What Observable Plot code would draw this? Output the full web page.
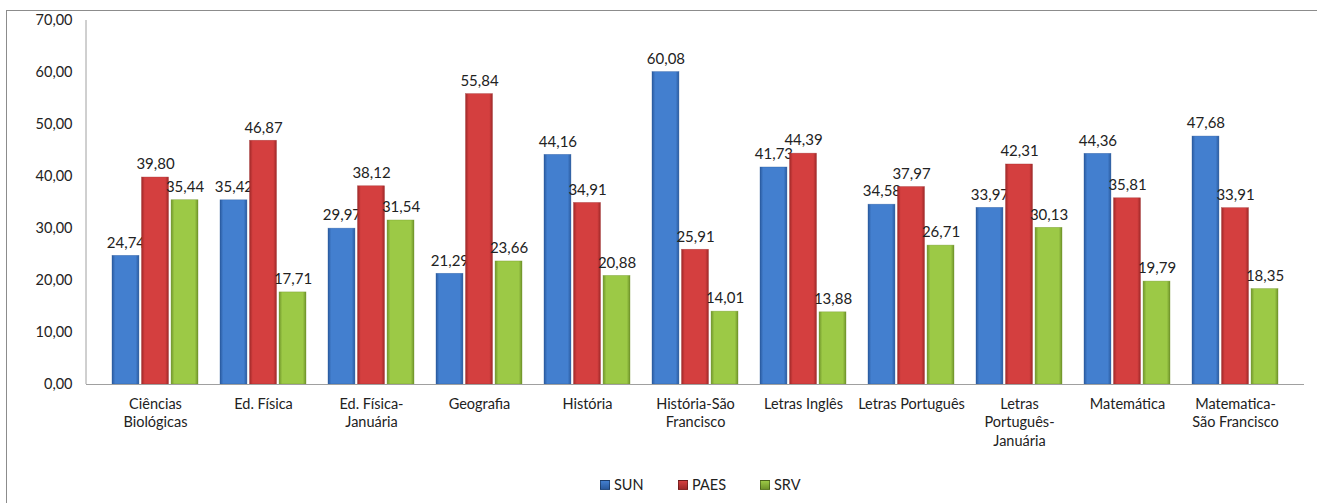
<!DOCTYPE html>
<html>
<head>
<meta charset="utf-8">
<script src="https://cdn.jsdelivr.net/npm/d3@7"></script>
<script src="https://cdn.jsdelivr.net/npm/@observablehq/plot@0.6"></script>
<style>
  html, body { margin: 0; padding: 0; background: #fff; }
  #wrap { position: relative; width: 1317px; height: 503px; overflow: hidden; font-family: Lato, "Open Sans", sans-serif; }
  #frame { position: absolute; left: 6px; top: 10px; width: 1400px; height: 600px; border: 1px solid #8c8c8c; box-sizing: border-box; }
  #chart { position: absolute; left: 0; top: 0; }
  #legend { position: absolute; top: 476px; left: 600px; display: flex; font-size: 14.5px; color: #222; }
  .item { display: flex; align-items: center; }
  .sw { width: 8px; height: 8px; margin-right: 4px; border: 1px solid rgba(0,0,0,0.35); }
</style>
</head>
<body>
<div id="wrap">
  <div id="frame"></div>
  <div id="chart"></div>
  <div id="legend"></div>
</div>
<script>
const categories = [
  "Ciências Biológicas", "Ed. Física", "Ed. Física-Januária", "Geografia", "História",
  "História-São Francisco", "Letras Inglês", "Letras Português", "Letras Português-Januária",
  "Matemática", "Matematica-São Francisco"
];
const categoryLabels = [
  "Ciências\nBiológicas", "Ed. Física", "Ed. Física-\nJanuária", "Geografia", "História",
  "História-São\nFrancisco", "Letras Inglês", "Letras Português", "Letras\nPortuguês-\nJanuária",
  "Matemática", "Matematica-\nSão Francisco"
];
const series = ["SUN", "PAES", "SRV"];
const sunValues  = [24.74, 35.42, 29.97, 21.29, 44.16, 60.08, 41.73, 34.58, 33.97, 44.36, 47.68];
const paesValues = [39.80, 46.87, 38.12, 55.84, 34.91, 25.91, 44.39, 37.97, 42.31, 35.81, 33.91];
const srvValues  = [35.44, 17.71, 31.54, 23.66, 20.88, 14.01, 13.88, 26.71, 30.13, 19.79, 18.35];
const yTicks = [0, 10, 20, 30, 40, 50, 60, 70];

const seriesValues = [sunValues, paesValues, srvValues];
const colors = {
  SUN:  {edge: "#2a5a9e", mid: "#437fcf", id: "gSUN"},
  PAES: {edge: "#9e2828", mid: "#d43f3f", id: "gPAES"},
  SRV:  {edge: "#6f942a", mid: "#9cc946", id: "gSRV"}
};

const W = 1317, H = 462;
const mL = 86, mR = 13, mT = 20, mB = H - 384;
const padding = 0.2;
const step = (W - mL - mR) / categories.length;
const bw = step * (1 - padding);
const barW = bw / 3;

const fmt = v => v.toFixed(2).replace(".", ",");
const labelOf = new Map(categories.map((c, i) => [c, categoryLabels[i]]));

const marks = [];
series.forEach((s, i) => {
  const data = categories.map((c, j) => ({category: c, series: s, value: seriesValues[i][j]}));
  marks.push(Plot.barY(data, {
    x: "category", y: "value",
    fill: `url(#${colors[s].id})`,
    stroke: colors[s].edge, strokeOpacity: 0.6, strokeWidth: 0.6,
    insetLeft: i * barW, insetRight: (2 - i) * barW
  }));
  marks.push(Plot.text(data, {
    x: "category", y: "value",
    text: d => fmt(d.value),
    dx: (i - 1) * barW, dy: -13,
    fontSize: 15, fill: "#222"
  }));
});

const chart = Plot.plot({
  width: W, height: H,
  marginLeft: mL, marginRight: mR, marginTop: mT, marginBottom: mB,
  style: {fontFamily: "Lato, 'Open Sans', sans-serif", fontSize: "14px", color: "#222", background: "transparent"},
  x: {domain: categories, padding: padding, label: null},
  y: {domain: [0, 70], label: null},
  marks: [
    () => {
      const ns = "http://www.w3.org/2000/svg";
      const defs = document.createElementNS(ns, "defs");
      for (const s of series) {
        const g = document.createElementNS(ns, "linearGradient");
        g.setAttribute("id", colors[s].id);
        g.setAttribute("x1", "0"); g.setAttribute("x2", "1");
        g.setAttribute("y1", "0"); g.setAttribute("y2", "0");
        [[0, colors[s].edge], [0.12, colors[s].mid], [0.88, colors[s].mid], [1, colors[s].edge]].forEach(([o, c]) => {
          const st = document.createElementNS(ns, "stop");
          st.setAttribute("offset", o); st.setAttribute("stop-color", c);
          g.appendChild(st);
        });
        defs.appendChild(g);
      }
      return defs;
    },
    ...marks,
    Plot.axisY({ticks: yTicks, tickFormat: fmt, tickSize: 0, tickPadding: 14, fontSize: 14.5, label: null}),
    (index, scales, values, dims) => {
      const ns = "http://www.w3.org/2000/svg";
      const l = document.createElementNS(ns, "line");
      l.setAttribute("x1", dims.marginLeft); l.setAttribute("x2", dims.marginLeft);
      l.setAttribute("y1", dims.marginTop); l.setAttribute("y2", dims.height - dims.marginBottom);
      l.setAttribute("stroke", "#a0a0a0");
      return l;
    },
    Plot.ruleY([0], {stroke: "#a0a0a0"}),
    Plot.axisX({tickSize: 0, tickPadding: 12, tickFormat: c => labelOf.get(c), fontSize: 14.5, lineHeight: 1.25, label: null})
  ]
});
document.getElementById("chart").appendChild(chart);

const legend = document.getElementById("legend");
const itemWidths = [78, 82, 60];
series.forEach((s, i) => {
  const it = document.createElement("div");
  it.className = "item";
  it.style.width = itemWidths[i] + "px";
  const sw = document.createElement("span");
  sw.className = "sw";
  sw.style.background = `linear-gradient(to bottom, ${colors[s].mid}, ${colors[s].edge})`;
  const t = document.createElement("span");
  t.textContent = s;
  it.appendChild(sw); it.appendChild(t);
  legend.appendChild(it);
});
</script>
</body>
</html>
